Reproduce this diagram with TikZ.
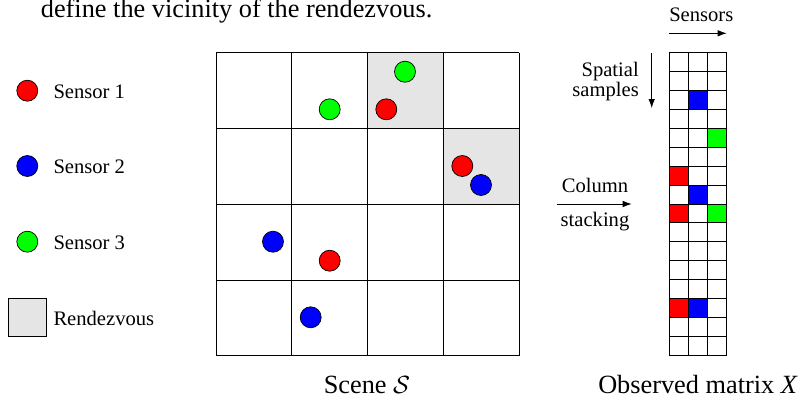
\documentclass[tikz,border=0pt]{standalone}
\usepackage{fontspec}
\setmainfont{Liberation Serif}
\usetikzlibrary{arrows.meta}
\begin{document}
\begin{tikzpicture}[x=1pt,y=-1pt,
  sensor/.style={circle,draw=black,line width=0.7pt,minimum size=21pt,inner sep=0pt},
  sone/.style={sensor,fill=red},
  stwo/.style={sensor,fill=blue},
  sthree/.style={sensor,fill=green},
  lbl/.style={font=\fontsize{20.6}{24}\selectfont,inner sep=0pt},
  biglbl/.style={font=\fontsize{26.3}{30}\selectfont,inner sep=0pt},
  gridline/.style={line width=0.9pt,draw=black},
  arr/.style={-{Latex[length=9pt,width=6.5pt]},line width=0.8pt},
  rdv/.style={fill=black!10}
]
\useasboundingbox (0,0) rectangle (801,399);

% caption fragment
\node[biglbl,anchor=base west] (cap) at (40.7,17.8) {define the vicinity of the rendezvous.};

% legend
\node[sone] (l1) at (27.3,90.7) {};
\node[stwo] (l2) at (27.3,166) {};
\node[sthree] (l3) at (27.3,241.7) {};
\node[draw,rdv,line width=0.9pt,minimum size=38pt,inner sep=0pt] (l4) at (27.3,317.3) {};
\node[lbl,anchor=base west] (t1) at (53.3,98.3) {Sensor 1};
\node[lbl,anchor=base west] (t2) at (53.3,173.3) {Sensor 2};
\node[lbl,anchor=base west] (t3) at (53.3,249.3) {Sensor 3};
\node[lbl,anchor=base west] (t4) at (53.3,325.7) {Rendezvous};

% scene
\fill[rdv] (367.5,52.7) rectangle (443.25,128.45);
\fill[rdv] (443.25,128.45) rectangle (519,204.2);
\foreach \i in {0,...,4} {
  \draw[gridline] (216+75.75*\i,52.7) -- (216+75.75*\i,355.7);
  \draw[gridline] (216,52.7+75.75*\i) -- (519,52.7+75.75*\i);
}
\node[sthree] (g1) at (405,71.7) {};
\node[sthree] (g2) at (329.7,109.3) {};
\node[sone] (r1) at (386.3,109.3) {};
\node[sone] (r2) at (462.3,166) {};
\node[stwo] (b1) at (481,185) {};
\node[stwo] (b2) at (273,241.7) {};
\node[sone] (r3) at (329.7,260.7) {};
\node[stwo] (b3) at (310.7,317.3) {};
\node[biglbl,anchor=base] (scene) at (367,393) {Scene $\mathcal{S}$};

% matrix
\foreach \r/\c/\col in {2/1/blue,4/2/green,6/0/red,7/1/blue,8/0/red,8/2/green,13/0/red,13/1/blue}
  \fill[\col] (669.3+19.13*\c,52.3+18.96*\r) rectangle ++(19.13,18.96);
\foreach \i in {0,...,3}
  \draw[gridline] (669.3+19.13*\i,52.3) -- (669.3+19.13*\i,355.66);
\foreach \r in {0,...,16}
  \draw[gridline] (669.3,52.3+18.96*\r) -- (726.69,52.3+18.96*\r);
\node[biglbl,anchor=base] (obs) at (698,393) {Observed matrix \textit{X}};

% arrows and labels
\node[lbl,anchor=base] (sens) at (701.3,21.7) {Sensors};
\coordinate (sa) at (669.3,33.3);
\coordinate (sb) at (726.7,33.3);
\draw[arr] (sa) -- (sb);
\node[lbl,anchor=base east] (sp1) at (639,76) {Spatial};
\node[lbl,anchor=base east] (sp2) at (639,96.3) {samples};
\coordinate (va) at (651.7,53);
\coordinate (vb) at (651.7,108);
\draw[arr] (va) -- (vb);
\node[lbl,anchor=base] (cs1) at (595,192.3) {Column};
\node[lbl,anchor=base] (cs2) at (595,226.3) {stacking};
\coordinate (ha) at (556.7,204);
\coordinate (hb) at (631.7,204);
\draw[arr] (ha) -- (hb);
\end{tikzpicture}
\end{document}
